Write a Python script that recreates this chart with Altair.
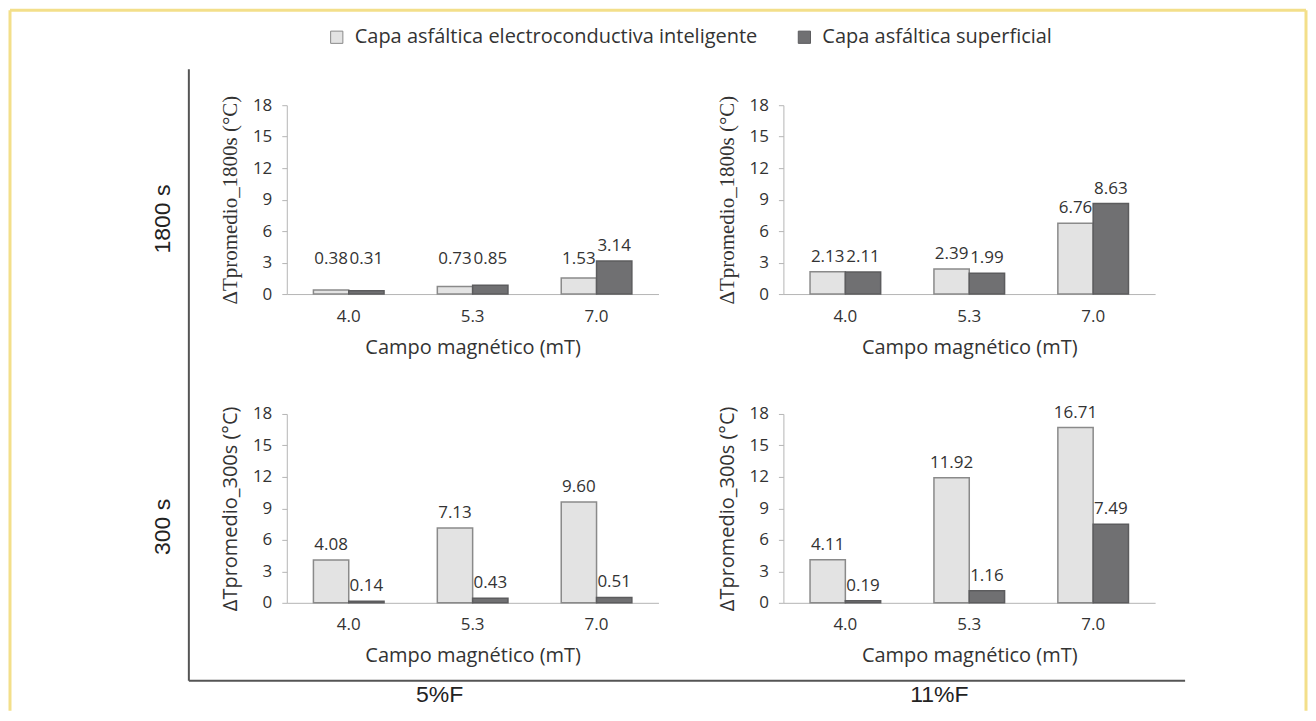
import altair as alt
import pandas as pd

# ---------------- data ----------------
campos = ["4.0", "5.3", "7.0"]
series = ["Capa asfáltica electroconductiva inteligente", "Capa asfáltica superficial"]
tiempos = ["1800 s", "300 s"]
fibras = ["5%F", "11%F"]

intel_5F_1800 = [0.38, 0.73, 1.53]
sup_5F_1800 = [0.31, 0.85, 3.14]
intel_11F_1800 = [2.13, 2.39, 6.76]
sup_11F_1800 = [2.11, 1.99, 8.63]
intel_5F_300 = [4.08, 7.13, 9.60]
sup_5F_300 = [0.14, 0.43, 0.51]
intel_11F_300 = [4.11, 11.92, 16.71]
sup_11F_300 = [0.19, 1.16, 7.49]

y_titles = {"1800 s": "ΔTpromedio_1800s (°C)", "300 s": "ΔTpromedio_300s (°C)"}
x_title = "Campo magnético (mT)"
y_ticks = [0, 3, 6, 9, 12, 15, 18]

values = {
    ("1800 s", "5%F"): (intel_5F_1800, sup_5F_1800),
    ("1800 s", "11%F"): (intel_11F_1800, sup_11F_1800),
    ("300 s", "5%F"): (intel_5F_300, sup_5F_300),
    ("300 s", "11%F"): (intel_11F_300, sup_11F_300),
}

rows = []
for (t, f), (a, b) in values.items():
    for c, va, vb in zip(campos, a, b):
        rows.append({"tiempo": t, "fibra": f, "campo": c, "serie": series[0], "valor": va})
        rows.append({"tiempo": t, "fibra": f, "campo": c, "serie": series[1], "valor": vb})
df = pd.DataFrame(rows)

# ---------------- style ----------------
W, H = 372, 189
FILLS = ["#e3e3e3", "#707072"]
STROKES = ["#8a8a8a", "#5c5c5e"]
AXIS_GREY = "#b5b5b5"
TEXT = "#333333"


def panel(t, f, legend=False):
    sub = df[(df.tiempo == t) & (df.fibra == f)]
    serif = t == "1800 s"
    base = alt.Chart(sub).transform_calculate(
        lab=("max(datum.valor, 1.9)" if serif else "datum.valor")
    ).encode(
        x=alt.X(
            "campo:N", sort=campos,
            scale=alt.Scale(paddingInner=0.43, paddingOuter=0.215),
            axis=alt.Axis(
                title=x_title, labelAngle=0, ticks=False, domainColor=AXIS_GREY,
                labelPadding=14, labelFontSize=17, labelColor=TEXT,
                titleFontSize=20, titleFontWeight="normal", titleColor=TEXT,
                titleX=W / 2, titleY=53, titleAlign="center", titleBaseline="middle",
            ),
        ),
        xOffset=alt.XOffset("serie:N", sort=series),
    )
    y_axis = alt.Axis(
        title=y_titles[t], values=y_ticks, tickCount=len(y_ticks), grid=False,
        domainColor=AXIS_GREY, tickColor=AXIS_GREY, tickSize=5, labelPadding=10,
        labelFontSize=17, labelOverlap=False, labelColor=TEXT,
        titleFontSize=21 if serif else 20, titleFontWeight="normal",
        titleFont="Liberation Serif" if serif else "Open Sans", titleColor=TEXT,
        titleAngle=-90, titleX=-56, titleY=H / 2, titleAlign="center", titleBaseline="middle",
    )
    y_scale = alt.Scale(domain=[0, 18], nice=False)
    leg = alt.Legend(
        title=None, orient="none", legendX=40, legendY=-78, direction="horizontal",
        labelFontSize=20, labelColor=TEXT, symbolType="square", symbolSize=150,
        symbolStrokeColor="#6a6a6a", symbolStrokeWidth=1, columnPadding=36,
        labelOffset=8, padding=0, labelLimit=600,
    ) if legend else None
    bars = base.mark_bar(strokeWidth=1.5).encode(
        y=alt.Y("valor:Q", scale=y_scale, axis=y_axis),
        fill=alt.Fill("serie:N", sort=series, scale=alt.Scale(domain=series, range=FILLS),
                      legend=leg),
        stroke=alt.Stroke("serie:N", sort=series, scale=alt.Scale(domain=series, range=STROKES),
                          legend=None),
    )
    labels = base.mark_text(dy=-15, fontSize=17, color=TEXT).encode(
        y=alt.Y("lab:Q", scale=y_scale, axis=y_axis),
        text=alt.Text("valor:Q", format=".2f"),
    )
    return alt.layer(bars, labels).properties(width=W, height=H)


one = pd.DataFrame({"k": [0]})


def rule(x, x2, y, y2, color, width):
    return alt.Chart(one).mark_rule(color=color, strokeWidth=width).encode(
        x=alt.value(x), x2=alt.value(x2), y=alt.value(y), y2=alt.value(y2)
    )


def label(text, x, y, angle=0, size=23):
    return alt.Chart(pd.DataFrame({"t": [text]})).mark_text(
        font="Liberation Sans", fontSize=size, color="#222222", angle=angle,
        align="center", baseline="middle",
    ).encode(text="t:N", x=alt.value(x), y=alt.value(y))


YEL = "#f3df8a"
decor = [
    rule(-277, -277, -95, 606, YEL, 3),
    rule(1020, 1020, -95, 606, YEL, 3),
    rule(-277, 1020, -95, -95, YEL, 3),
    rule(-98, -98, -36, 576, "#555555", 2),
    rule(-98, 899, 576, 576, "#555555", 2),
    label(tiempos[0], -124, 114, angle=270),
    label(tiempos[1], -124, 422, angle=270),
    label(fibras[0], 153, 590),
    label(fibras[1], 653, 590),
]

p1 = alt.layer(panel("1800 s", "5%F", legend=True), *decor)
p2 = panel("1800 s", "11%F")
p3 = panel("300 s", "5%F")
p4 = panel("300 s", "11%F")

chart = alt.concat(
    p1, p2, p3, p4, columns=2, spacing={"row": 120, "column": 125}, bounds="flush"
).properties(
    padding=0
).configure(
    font="Open Sans"
).configure_view(
    stroke=None
)

chart.save("out.html", embed_options={"renderer": "svg", "actions": False})
